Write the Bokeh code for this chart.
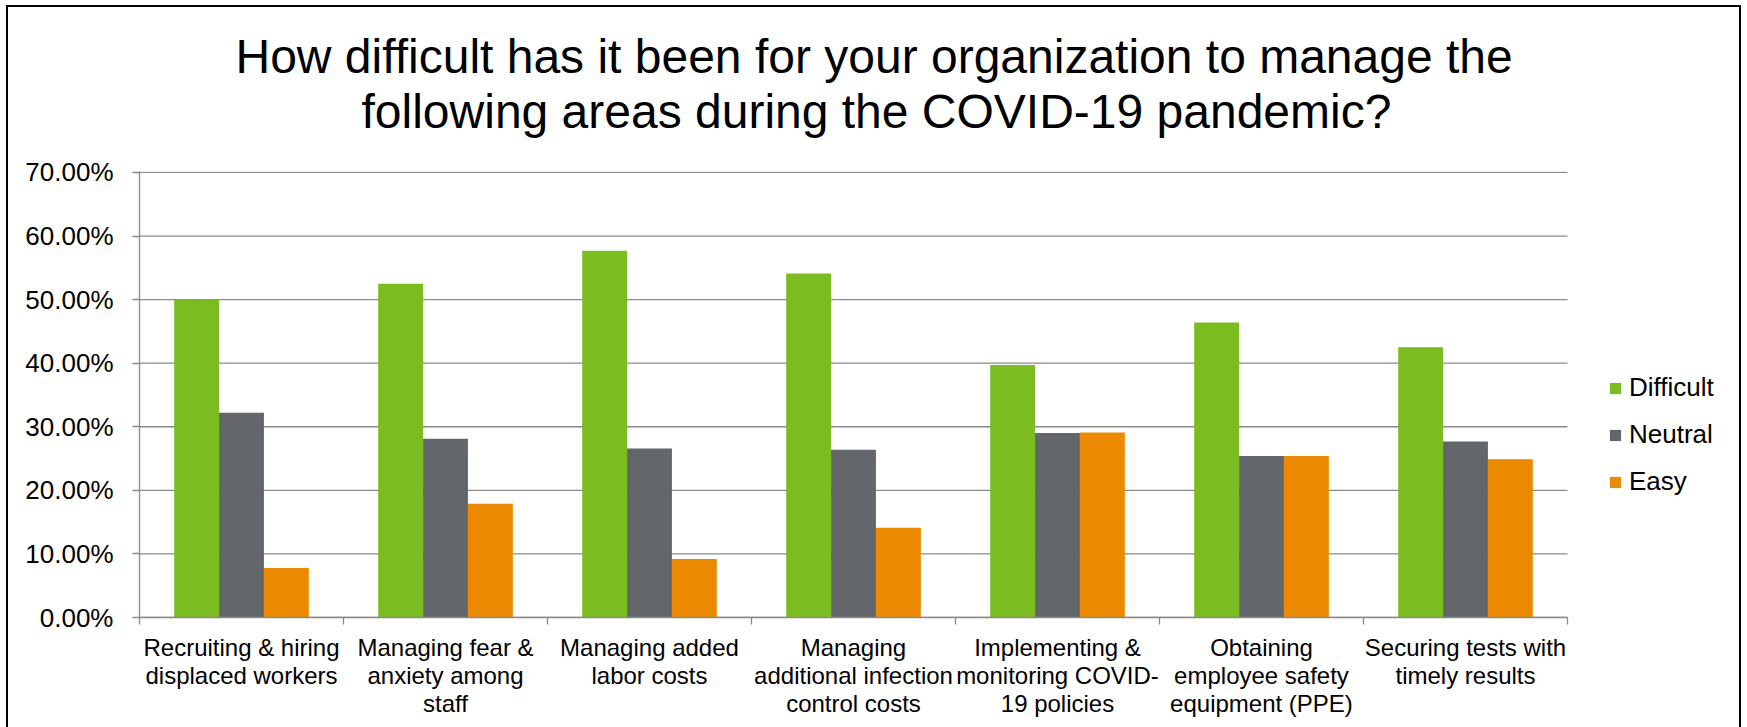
from bokeh.plotting import figure
from bokeh.models import (ColumnDataSource, Range1d, FixedTicker, NumeralTickFormatter,
                          Legend, LegendItem, Title, InlineStyleSheet)
from bokeh.transform import dodge
from bokeh.embed import file_html
from bokeh.resources import INLINE

# ---- data ----
categories = [
    "Recruiting & hiring displaced workers",
    "Managing fear & anxiety among staff",
    "Managing added labor costs",
    "Managing additional infection control costs",
    "Implementing & monitoring COVID-19 policies",
    "Obtaining employee safety equipment (PPE)",
    "Securing tests with timely results",
]
category_labels = [
    "Recruiting & hiring\ndisplaced workers",
    "Managing fear &\nanxiety among\nstaff",
    "Managing added\nlabor costs",
    "Managing\nadditional infection\ncontrol costs",
    "Implementing &\nmonitoring COVID-\n19 policies",
    "Obtaining\nemployee safety\nequipment (PPE)",
    "Securing tests with\ntimely results",
]
series = ["Difficult", "Neutral", "Easy"]
difficult = [0.500, 0.525, 0.577, 0.541, 0.397, 0.464, 0.425]
neutral = [0.322, 0.281, 0.266, 0.264, 0.290, 0.254, 0.277]
easy = [0.078, 0.179, 0.092, 0.141, 0.291, 0.254, 0.249]
y_ticks = [0.0, 0.1, 0.2, 0.3, 0.4, 0.5, 0.6, 0.7]
title_lines = [
    "How difficult has it been for your organization to manage the",
    "following areas during the COVID-19 pandemic?",
]
colors = ["#7BBD21", "#63666A", "#EB8A00"]

FONT = "Liberation Sans"
GRID = "#8a8a8a"

# ---- layout constants (pixels) ----
W, H = 1747, 727
LEFT, TOP, BOTTOM = 139, 171, 110
PLOT_W = 1428            # width of the category area
FRAME_W = W - LEFT       # frame extends to the right edge; legend sits inside it

n = len(categories)
xpos = [i + 0.5 for i in range(n)]
source = ColumnDataSource(dict(x=xpos, Difficult=difficult, Neutral=neutral, Easy=easy))

p = figure(width=W, height=H, x_range=Range1d(0, n * FRAME_W / PLOT_W),
           y_range=Range1d(0, 0.7015),
           output_backend="svg", toolbar_location=None,
           min_border_left=LEFT, min_border_right=0, min_border_top=TOP,
           min_border_bottom=BOTTOM)
p.outline_line_color = None
p.background_fill_color = "white"
p.border_fill_color = "white"
p.title.visible = False

# horizontal grid lines limited to the category area
p.xgrid.visible = False
p.ygrid.visible = False
grid_src = ColumnDataSource(dict(y=y_ticks))
p.segment(x0=0, x1=n, y0="y", y1="y", source=grid_src, line_color=GRID,
          line_width=1.3, level="underlay")

bw = 0.22
offsets = [-bw, 0.0, bw]
renderers = []
for s, off, c in zip(series, offsets, colors):
    r = p.vbar(x=dodge("x", off, range=p.x_range), top=s, width=bw, bottom=0,
               source=source, fill_color=c, line_color=None)
    renderers.append(r)

# y axis
p.yaxis.ticker = FixedTicker(ticks=y_ticks)
p.yaxis.formatter = NumeralTickFormatter(format="0.00%")
p.yaxis.axis_line_color = GRID
p.yaxis.axis_line_width = 1.3
p.yaxis.major_tick_line_color = GRID
p.yaxis.major_tick_line_width = 1.3
p.yaxis.major_tick_out = 7
p.yaxis.major_tick_in = 0
p.yaxis.minor_tick_line_color = None
p.yaxis.major_label_text_font = FONT
p.yaxis.major_label_text_font_size = "26px"
p.yaxis.major_label_text_color = "black"
p.yaxis.major_label_standoff = 19

# x axis
p.xaxis.bounds = (0, n)
p.xaxis.ticker = FixedTicker(ticks=xpos, minor_ticks=list(range(n + 1)))
p.xaxis.major_label_overrides = {x: lab for x, lab in zip(xpos, category_labels)}
p.xaxis.axis_line_color = GRID
p.xaxis.axis_line_width = 1.3
p.xaxis.major_tick_line_color = None
p.xaxis.major_tick_out = 0
p.xaxis.major_tick_in = 0
p.xaxis.minor_tick_line_color = GRID
p.xaxis.minor_tick_line_width = 1.3
p.xaxis.minor_tick_out = 7
p.xaxis.minor_tick_in = 0
p.xaxis.major_label_text_font = FONT
p.xaxis.major_label_text_font_size = "24px"
p.xaxis.major_label_text_line_height = 1.04
p.xaxis.major_label_text_color = "black"
p.xaxis.major_label_standoff = 9

# legend (inside the frame, to the right of the category area)
legend = Legend(items=[LegendItem(label=s, renderers=[r]) for s, r in zip(series, renderers)],
                location=(1469, 120), glyph_width=14, glyph_height=14,
                label_text_font=FONT, label_text_font_size="26px", label_text_color="black",
                label_standoff=7, spacing=16, padding=0, margin=0,
                border_line_color=None, background_fill_alpha=0)
p.add_layout(legend, "center")

# title: spacer closest to the plot, then line 2, then line 1
p.add_layout(Title(text=" ", text_font_size="10px", standoff=21), "above")
for txt, off in [(title_lines[1], 222), (title_lines[0], 96)]:
    p.add_layout(Title(text=txt, align="left", offset=off, text_font=FONT,
                       text_font_size="48px", text_font_style="normal",
                       text_color="black", standoff=0), "above")

# chart border (left, top, right)
p.stylesheets = [InlineStyleSheet(css=(
    ":host { position: relative; }"
    ":host::after { content: ''; position: absolute; left: 6px; top: 5px; width: 1735px;"
    " height: 722px; box-sizing: border-box; border-left: 2px solid #000;"
    " border-right: 2px solid #000; border-top: 2px solid #000; pointer-events: none; }"
))]

open("out.html", "w").write(file_html(p, INLINE))
